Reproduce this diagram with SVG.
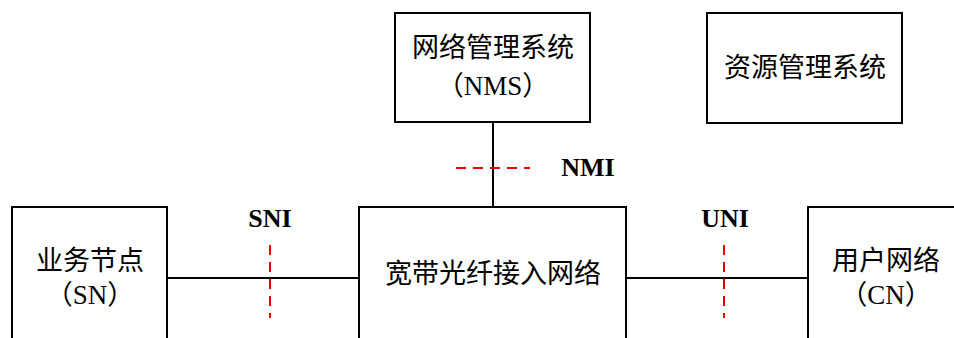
<svg xmlns="http://www.w3.org/2000/svg" width="954" height="338" viewBox="0 0 954 338">
<style>
.box{fill:#fff;stroke:#000;stroke-width:2}
.t{font-family:"Liberation Serif","Noto Sans CJK SC",serif;font-size:27px;fill:#000;text-anchor:middle}
.lbl{font-family:"Liberation Serif",serif;font-size:26px;font-weight:bold;fill:#000;text-anchor:middle}
.ln{stroke:#000;stroke-width:2;fill:none}
.dash{stroke:#e00;stroke-width:2;stroke-dasharray:10 7;fill:none}
</style>
<rect width="954" height="338" fill="#fff"/>
<g id="connectors">
<line class="ln" x1="493" y1="122" x2="493" y2="207"/>
<line class="ln" x1="167" y1="278" x2="359" y2="278"/>
<line class="ln" x1="626" y1="278" x2="808" y2="278"/>
<line class="dash" x1="456" y1="168" x2="530" y2="168"/>
<line class="dash" x1="270" y1="245" x2="270" y2="318"/>
<line class="dash" x1="724" y1="245" x2="724" y2="318"/>
<text class="lbl" x="588" y="176">NMI</text>
<text class="lbl" x="270" y="227">SNI</text>
<text class="lbl" x="725" y="227">UNI</text>
</g>
<g id="nms">
<rect class="box" x="395" y="13" width="195" height="109"/>
<text class="t" x="493" y="57">网络管理系统</text>
<text class="t" x="493" y="95">（NMS）</text>
</g>
<g id="rms">
<rect class="box" x="707" y="13" width="195" height="110"/>
<text class="t" x="805" y="77">资源管理系统</text>
</g>
<g id="an">
<rect class="box" x="359" y="207" width="267" height="140"/>
<text class="t" x="493" y="283">宽带光纤接入网络</text>
</g>
<g id="sn">
<rect class="box" x="12" y="207" width="155" height="140"/>
<text class="t" x="90" y="270">业务节点</text>
<text class="t" x="90" y="304">（SN）</text>
</g>
<g id="cn">
<rect class="box" x="808" y="207" width="160" height="140"/>
<text class="t" x="886" y="270">用户网络</text>
<text class="t" x="886" y="304">（CN）</text>
</g>
</svg>
